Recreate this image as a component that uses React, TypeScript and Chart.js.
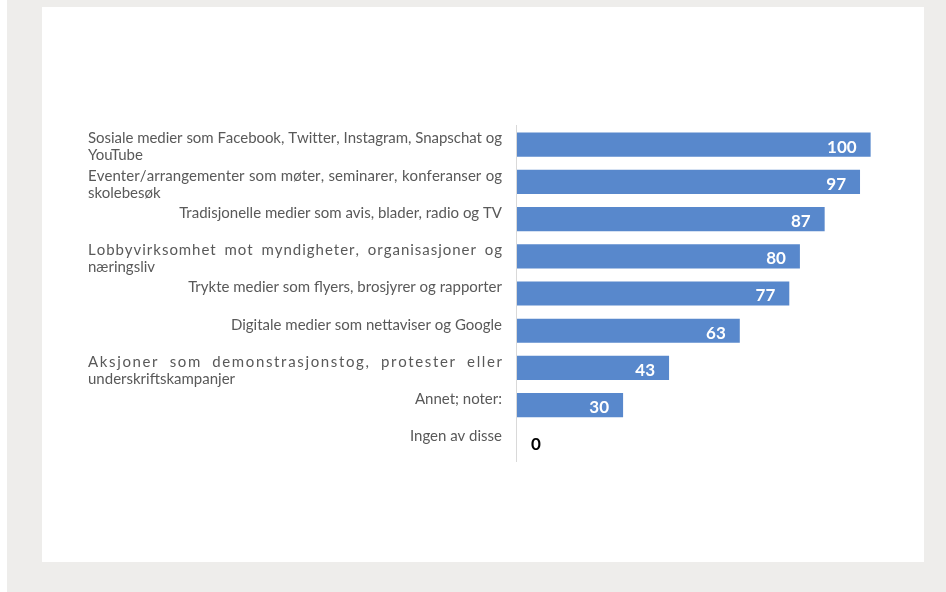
import React, { useEffect, useRef } from "react";
import { Chart, registerables } from "chart.js";

Chart.register(...registerables);

const categoryLines: string[][] = [
  ["Sosiale medier som Facebook, Twitter, Instagram, Snapschat og", "YouTube"],
  ["Eventer/arrangementer som møter, seminarer, konferanser og", "skolebesøk"],
  ["Tradisjonelle medier som avis, blader, radio og TV"],
  ["Lobbyvirksomhet mot myndigheter, organisasjoner og", "næringsliv"],
  ["Trykte medier som flyers, brosjyrer og rapporter"],
  ["Digitale medier som nettaviser og Google"],
  ["Aksjoner som demonstrasjonstog, protester eller", "underskriftskampanjer"],
  ["Annet; noter:"],
  ["Ingen av disse"],
];
const values: number[] = [100, 97, 87, 80, 77, 63, 43, 30, 0];

const LABEL_FONT = "15px Lato";
const VALUE_FONT = "bold 17px Lato";

function drawJustified(ctx: CanvasRenderingContext2D, line: string, left: number, right: number, y: number) {
  const chars = Array.from(line);
  const widths = chars.map((c) => ctx.measureText(c).width);
  const natural = ctx.measureText(line).width;
  const scaleFix = natural / widths.reduce((a, b) => a + b, 0);
  let extra = right - left - natural;
  if (extra < 0) extra = 0;
  // weights: letter gap 1, space 4
  let totalWeight = 0;
  for (let i = 0; i < chars.length - 1; i++) totalWeight += chars[i] === " " ? 4 : 1;
  const unit = totalWeight > 0 ? extra / totalWeight : 0;
  ctx.textAlign = "left";
  let x = left;
  chars.forEach((c, i) => {
    ctx.fillText(c, x, y);
    x += widths[i] * scaleFix + (i < chars.length - 1 ? (c === " " ? 4 : 1) * unit : 0);
  });
}

const labelPlugin = {
  id: "customLabels",
  afterDraw(chart: any) {
    const ctx = chart.ctx;
    const yScale = chart.scales.y;
    const area = chart.chartArea;
    ctx.save();
    ctx.strokeStyle = "#d9d9d9";
    ctx.lineWidth = 1;
    ctx.beginPath();
    ctx.moveTo(area.left - 0.5, area.top - 1);
    ctx.lineTo(area.left - 0.5, area.bottom + 1);
    ctx.stroke();
    const leftX = 88;
    const rightX = 502;
    ctx.font = LABEL_FONT;
    ctx.fillStyle = "#595959";
    ctx.textBaseline = "middle";
    categoryLines.forEach((lines, i) => {
      const cy = yScale.getPixelForValue(i);
      lines.forEach((line, li) => {
        const y = cy - 6 + li * 17;
        if (lines.length === 1) {
          ctx.textAlign = "right";
          ctx.fillText(line, rightX, y);
        } else if (li < lines.length - 1) {
          drawJustified(ctx, line, leftX, rightX, y);
        } else {
          ctx.textAlign = "left";
          ctx.fillText(line, leftX, y);
        }
      });
    });
    const meta = chart.getDatasetMeta(0);
    ctx.font = VALUE_FONT;
    meta.data.forEach((bar: any, i: number) => {
      const v = values[i];
      const y = bar.y + 2.5;
      if (v > 0) {
        ctx.fillStyle = "#ffffff";
        ctx.textAlign = "right";
        ctx.fillText(String(v), bar.x - 14, y);
      } else {
        ctx.fillStyle = "#000000";
        ctx.textAlign = "left";
        ctx.fillText(String(v), bar.x + 14, y);
      }
    });
    ctx.restore();
  },
};

export default function App() {
  const ref = useRef<HTMLCanvasElement | null>(null);
  useEffect(() => {
    if (!ref.current) return;
    const chart = new Chart(ref.current, {
      type: "bar",
      data: {
        labels: categoryLines.map((l) => l.join(" ")),
        datasets: [
          {
            data: values,
            backgroundColor: "#5888cc",
            borderWidth: 0,
            barPercentage: 0.65,
            categoryPercentage: 1,
          },
        ],
      },
      options: {
        indexAxis: "y",
        animation: false,
        responsive: false,
        maintainAspectRatio: false,
        events: [],
        layout: { padding: { left: 517, right: 40, top: 126, bottom: 131 } },
        plugins: {
          legend: { display: false },
          tooltip: { enabled: false },
          title: { display: false },
        },
        scales: {
          x: { display: false, min: 0, max: 110 },
          y: { display: false },
        },
      },
      plugins: [labelPlugin],
    });
    return () => chart.destroy();
  }, []);
  return (
    <div style={{ position: "absolute", left: 0, top: 0, width: 946, height: 592, background: "#ffffff" }}>
      <div style={{ position: "absolute", left: 7, top: 0, width: 939, height: 592, background: "#eeedeb" }} />
      <div style={{ position: "absolute", left: 42, top: 7, width: 882, height: 555, background: "#ffffff" }} />
      <canvas ref={ref} width={946} height={592} style={{ position: "absolute", left: 0, top: 0 }} />
    </div>
  );
}
